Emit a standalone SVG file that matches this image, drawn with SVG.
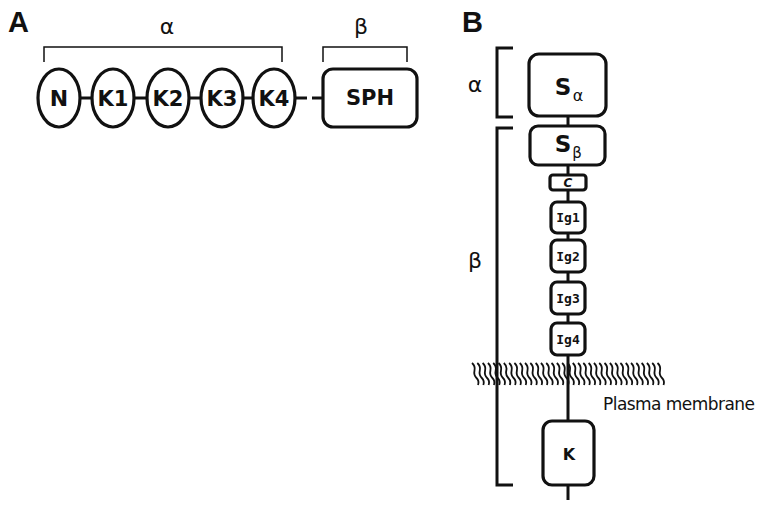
<svg xmlns="http://www.w3.org/2000/svg" xmlns:xlink="http://www.w3.org/1999/xlink" width="764" height="510" viewBox="0 0 764 510">
<style>
.bg{fill:#fff}
.dom{fill:#fff;stroke:#111;stroke-width:3.2}
.ln{stroke:#111;stroke-width:3;fill:none}
.br{stroke:#111;stroke-width:1.5;fill:none}
.brB{stroke:#111;stroke-width:3;fill:none}
.sq{stroke:#111;stroke-width:1.8;fill:none}
.lbl{font-family:"DejaVu Sans","Liberation Sans",sans-serif;font-weight:bold;fill:#111;text-anchor:middle}
.mono{font-family:"DejaVu Sans Mono","Liberation Mono",monospace;font-weight:bold;fill:#111;text-anchor:middle}
.sub{font-family:"DejaVu Sans","Liberation Sans",sans-serif;fill:#111;text-anchor:middle}
.pan{font-family:"Liberation Sans",Arial,sans-serif;font-weight:bold;font-size:29px;fill:#111}
.gr{font-family:"DejaVu Sans","Liberation Sans",sans-serif;font-size:22px;fill:#111;text-anchor:middle}
.txt{font-family:"DejaVu Sans","Liberation Sans",sans-serif;font-size:17px;fill:#111}
</style>
<defs>
<path id="sq" d="M0,0 Q3.5,3 2.5,7.5 T4.5,15 T6,22" class="sq"/>
</defs>
<rect class="bg" x="0" y="0" width="764" height="510"/>

<text class="pan" x="8" y="32">A</text>
<text class="pan" x="462" y="32">B</text>

<!-- Panel A brackets -->
<g id="bracketA-alpha">
<path class="br" d="M44,62 V47 H282 V62"/>
<text class="gr" x="167" y="34">α</text>
</g>
<g id="bracketA-beta">
<path class="br" d="M323,62 V47 H407 V62"/>
<text class="gr" x="361" y="34">β</text>
</g>

<!-- Connectors -->
<g id="connectors">
<line class="ln" x1="80" y1="98" x2="92" y2="98"/>
<line class="ln" x1="134" y1="98" x2="147" y2="98"/>
<line class="ln" x1="189" y1="98" x2="201" y2="98"/>
<line class="ln" x1="243" y1="98" x2="253" y2="98"/>
<line class="ln" x1="295" y1="98" x2="307" y2="98"/>
<line class="ln" x1="312" y1="98" x2="323" y2="98"/>
<line class="ln" x1="568" y1="116" x2="568" y2="126"/>
<line class="ln" x1="568" y1="165" x2="568" y2="175"/>
<line class="ln" x1="568" y1="190" x2="568" y2="202"/>
<line class="ln" x1="568" y1="233" x2="568" y2="240"/>
<line class="ln" x1="568" y1="272" x2="568" y2="282"/>
<line class="ln" x1="568" y1="314" x2="568" y2="323"/>
<line class="ln" x1="568" y1="355" x2="568" y2="421"/>
<line class="ln" x1="568" y1="485" x2="568" y2="500"/>
</g>

<!-- Panel A nodes -->
<g id="N"><ellipse class="dom" cx="59" cy="98" rx="21" ry="29"/><text class="lbl" x="59" y="106" font-size="22">N</text></g>
<g id="K1"><ellipse class="dom" cx="113" cy="98" rx="21" ry="29"/><text class="lbl" x="113" y="106" font-size="21">K1</text></g>
<g id="K2"><ellipse class="dom" cx="168" cy="98" rx="21" ry="29"/><text class="lbl" x="168" y="106" font-size="21">K2</text></g>
<g id="K3"><ellipse class="dom" cx="222" cy="98" rx="21" ry="29"/><text class="lbl" x="222" y="106" font-size="21">K3</text></g>
<g id="K4"><ellipse class="dom" cx="274" cy="98" rx="21" ry="29"/><text class="lbl" x="274" y="106" font-size="21">K4</text></g>
<g id="SPH"><rect class="dom" x="323" y="69" width="94" height="58" rx="10"/><text class="lbl" x="370" y="105" font-size="21">SPH</text></g>

<!-- Panel B brackets -->
<g id="bracketB-alpha">
<path class="brB" d="M513,48 H497 V117 H513"/>
<text class="gr" x="475" y="92">α</text>
</g>
<g id="bracketB-beta">
<path class="brB" d="M513,128 H497 V485 H513"/>
<text class="gr" x="475" y="268">β</text>
</g>

<!-- Membrane -->
<g id="membrane">
<use xlink:href="#sq" x="472" y="363"/><use xlink:href="#sq" x="477.3" y="363"/><use xlink:href="#sq" x="482.6" y="363"/><use xlink:href="#sq" x="487.9" y="363"/><use xlink:href="#sq" x="493.2" y="363"/><use xlink:href="#sq" x="498.5" y="363"/><use xlink:href="#sq" x="503.8" y="363"/><use xlink:href="#sq" x="509.1" y="363"/><use xlink:href="#sq" x="514.4" y="363"/><use xlink:href="#sq" x="519.7" y="363"/><use xlink:href="#sq" x="525" y="363"/><use xlink:href="#sq" x="530.3" y="363"/><use xlink:href="#sq" x="535.6" y="363"/><use xlink:href="#sq" x="540.9" y="363"/><use xlink:href="#sq" x="546.2" y="363"/><use xlink:href="#sq" x="551.5" y="363"/><use xlink:href="#sq" x="556.8" y="363"/><use xlink:href="#sq" x="562.1" y="363"/><use xlink:href="#sq" x="567.4" y="363"/><use xlink:href="#sq" x="572.7" y="363"/><use xlink:href="#sq" x="578" y="363"/><use xlink:href="#sq" x="583.3" y="363"/><use xlink:href="#sq" x="588.6" y="363"/><use xlink:href="#sq" x="593.9" y="363"/><use xlink:href="#sq" x="599.2" y="363"/><use xlink:href="#sq" x="604.5" y="363"/><use xlink:href="#sq" x="609.8" y="363"/><use xlink:href="#sq" x="615.1" y="363"/><use xlink:href="#sq" x="620.4" y="363"/><use xlink:href="#sq" x="625.7" y="363"/><use xlink:href="#sq" x="631" y="363"/><use xlink:href="#sq" x="636.3" y="363"/><use xlink:href="#sq" x="641.6" y="363"/><use xlink:href="#sq" x="646.9" y="363"/><use xlink:href="#sq" x="652.2" y="363"/><use xlink:href="#sq" x="657.5" y="363"/>
<text class="txt" x="603" y="410" textLength="152">Plasma membrane</text>
</g>

<!-- Panel B nodes -->
<g id="Salpha"><rect class="dom" x="529" y="54" width="77" height="62" rx="10"/><text class="lbl" x="563" y="95" font-size="23">S</text><text class="sub" x="578" y="101" font-size="16">α</text></g>
<g id="Sbeta"><rect class="dom" x="530" y="126" width="75" height="39" rx="8"/><text class="lbl" x="563" y="152" font-size="23">S</text><text class="sub" x="577" y="158" font-size="15">β</text></g>
<g id="C"><rect class="dom" x="550" y="175" width="36" height="15" rx="3"/><text class="lbl" x="568" y="187" font-size="12" font-style="italic">C</text></g>
<g id="Ig1"><rect class="dom" x="551" y="202" width="34" height="31" rx="6"/><text class="mono" x="568" y="222" font-size="13">Ig1</text></g>
<g id="Ig2"><rect class="dom" x="551" y="240" width="34" height="32" rx="6"/><text class="mono" x="568" y="261" font-size="13">Ig2</text></g>
<g id="Ig3"><rect class="dom" x="551" y="282" width="34" height="32" rx="6"/><text class="mono" x="568" y="303" font-size="13">Ig3</text></g>
<g id="Ig4"><rect class="dom" x="551" y="323" width="34" height="32" rx="6"/><text class="mono" x="568" y="344" font-size="13">Ig4</text></g>
<g id="K"><rect class="dom" x="543" y="421" width="51" height="64" rx="9"/><text class="lbl" x="569" y="460" font-size="16">K</text></g>
</svg>
